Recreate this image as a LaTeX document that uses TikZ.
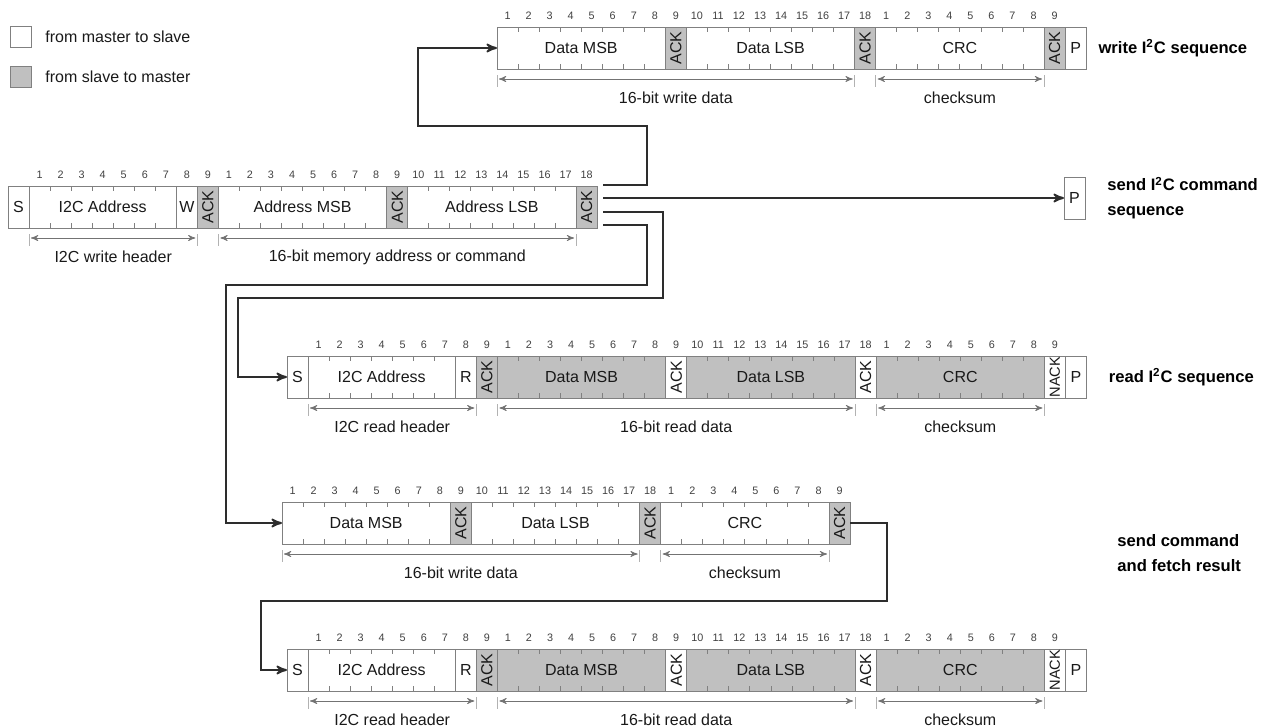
\documentclass[tikz,border=0pt]{standalone}
\usepackage{fontspec}
\setmainfont{Liberation Sans}
\usepackage{tikz}
\usepackage{xcolor}
\usepackage{graphicx}
\usetikzlibrary{calc, chains, arrows, positioning}

\definecolor{slavegray}{RGB}{192,192,192}
\definecolor{rimgray}{RGB}{128,128,128}
\definecolor{wiregray}{RGB}{45,45,45}

\begin{document}
\begin{tikzpicture}[x=0.5pt, y=-0.5pt,
      field/.style={
        draw=rimgray,
        line width=0.5pt,
        minimum width=#1*10.52pt,
        minimum height=21pt,
        inner sep=0pt,
        outer sep=0pt,
        text=black!90,
        font=\fontsize{8}{9.6}\selectfont
      },
      field/.default=1,
      slave/.style={fill=slavegray},
      num/.style={inner sep=0pt, text=black!75, font=\fontsize{5.4}{6}\selectfont},
      tick/.style={draw=rimgray, line width=0.4pt},
      bar/.style={draw=black!30, line width=0.4pt},
      dim/.style={<->, draw=black!55, line width=0.4pt, shorten <=1pt, shorten >=1pt},
      note/.style={inner sep=0pt, text=black!90, font=\fontsize{8}{9.6}\selectfont},
      seq/.style={inner sep=0pt, align=left, font=\bfseries\fontsize{8.3}{12.5}\selectfont},
      wire/.style={->, draw=wiregray, line width=0.9pt},
      >=stealth',
      node distance=0pt]

    \useasboundingbox (0,0) rectangle (1264,728);

    % legend
    \node[field, minimum height=10.52pt, anchor=north west] (keyW) at (10,26) {};
    \node[field, slave, minimum height=10.52pt, below=9.5pt of keyW] (keyG) {};
    \node[note, right=7pt of keyW] (keyWtxt) {from master to slave};
    \node[note, right=7pt of keyG] (keyGtxt) {from slave to master};

    % write sequence
    \begin{scope}[start chain=wr going right]
      \node[field=8, on chain, anchor=north west] (wMSB) at (497,27) {Data MSB};
      \node[field, slave, on chain] (wAck1) {\rotatebox{90}{ACK}};
      \node[field=8, on chain] (wLSB) {Data LSB};
      \node[field, slave, on chain] (wAck2) {\rotatebox{90}{ACK}};
      \node[field=8, on chain] (wCRC) {CRC};
      \node[field, slave, on chain] (wAck3) {\rotatebox{90}{ACK}};
      \node[field, on chain] (wP) {P};
    \end{scope}

    % command sequence
    \begin{scope}[start chain=cmd going right]
      \node[field, on chain, anchor=north west] (cS) at (8,186) {S};
      \node[field=7, on chain] (cAddr) {I2C Address};
      \node[field, on chain] (cW) {W};
      \node[field, slave, on chain] (cAck1) {\rotatebox{90}{ACK}};
      \node[field=8, on chain] (cMSB) {Address MSB};
      \node[field, slave, on chain] (cAck2) {\rotatebox{90}{ACK}};
      \node[field=8, on chain] (cLSB) {Address LSB};
      \node[field, slave, on chain] (cAck3) {\rotatebox{90}{ACK}};
    \end{scope}
    \node[field, anchor=north west] (cP) at (1064,177) {P};

    % read sequence
    \begin{scope}[start chain=rd going right]
      \node[field, on chain, anchor=north west] (rS) at (287,356) {S};
      \node[field=7, on chain] (rAddr) {I2C Address};
      \node[field, on chain] (rR) {R};
      \node[field, slave, on chain] (rAck1) {\rotatebox{90}{ACK}};
      \node[field=8, slave, on chain] (rMSB) {Data MSB};
      \node[field, on chain] (rAck2) {\rotatebox{90}{ACK}};
      \node[field=8, slave, on chain] (rLSB) {Data LSB};
      \node[field, on chain] (rAck3) {\rotatebox{90}{ACK}};
      \node[field=8, slave, on chain] (rCRC) {CRC};
      \node[field, on chain] (rNack) {\rotatebox{90}{\fontsize{7.3}{8}\selectfont NACK}};
      \node[field, on chain] (rP) {P};
    \end{scope}

    % send command, then fetch
    \begin{scope}[start chain=fw going right]
      \node[field=8, on chain, anchor=north west] (fMSB) at (282,502) {Data MSB};
      \node[field, slave, on chain] (fAck1) {\rotatebox{90}{ACK}};
      \node[field=8, on chain] (fLSB) {Data LSB};
      \node[field, slave, on chain] (fAck2) {\rotatebox{90}{ACK}};
      \node[field=8, on chain] (fCRC) {CRC};
      \node[field, slave, on chain] (fAck3) {\rotatebox{90}{ACK}};
    \end{scope}

    \begin{scope}[start chain=bt going right]
      \node[field, on chain, anchor=north west] (bS) at (287,649) {S};
      \node[field=7, on chain] (bAddr) {I2C Address};
      \node[field, on chain] (bR) {R};
      \node[field, slave, on chain] (bAck1) {\rotatebox{90}{ACK}};
      \node[field=8, slave, on chain] (bMSB) {Data MSB};
      \node[field, on chain] (bAck2) {\rotatebox{90}{ACK}};
      \node[field=8, slave, on chain] (bLSB) {Data LSB};
      \node[field, on chain] (bAck3) {\rotatebox{90}{ACK}};
      \node[field=8, slave, on chain] (bCRC) {CRC};
      \node[field, on chain] (bNack) {\rotatebox{90}{\fontsize{7.3}{8}\selectfont NACK}};
      \node[field, on chain] (bP) {P};
    \end{scope}

    % bit numbers and ticks
    \foreach \f/\n/\k in {wMSB/8/1, wAck1/1/9, wLSB/8/10, wAck2/1/18, wCRC/8/1, wAck3/1/9,
        cAddr/7/1, cW/1/8, cAck1/1/9, cMSB/8/1, cAck2/1/9, cLSB/8/10, cAck3/1/18,
        rAddr/7/1, rR/1/8, rAck1/1/9, rMSB/8/1, rAck2/1/9, rLSB/8/10, rAck3/1/18, rCRC/8/1, rNack/1/9,
        fMSB/8/1, fAck1/1/9, fLSB/8/10, fAck2/1/18, fCRC/8/1, fAck3/1/9,
        bAddr/7/1, bR/1/8, bAck1/1/9, bMSB/8/1, bAck2/1/9, bLSB/8/10, bAck3/1/18, bCRC/8/1, bNack/1/9} {
      \foreach \i in {1,...,\n} {
        \pgfmathtruncatemacro{\bit}{\k+\i-1}
        \node[num] (\f-\i) at ($(\f.north west)+({(\i-0.5)*21.04},-11)$) {\bit};
      }
      \ifnum\n>1
        \foreach \i in {2,...,\n}
          \draw[tick] ($(\f.north west)+({(\i-1)*21.04},0)$) -- ++(0,5)
                      ($(\f.south west)+({(\i-1)*21.04},0)$) -- ++(0,-5);
      \fi
    }

    % spans below the fields
    \foreach \a/\b/\txt in {wMSB/wLSB/16-bit write data, wCRC/wCRC/checksum,
        cAddr/cW/I2C write header, cMSB/cLSB/16-bit memory address or command,
        rAddr/rR/I2C read header, rMSB/rLSB/16-bit read data, rCRC/rCRC/checksum,
        fMSB/fLSB/16-bit write data, fCRC/fCRC/checksum,
        bAddr/bR/I2C read header, bMSB/bLSB/16-bit read data, bCRC/bCRC/checksum} {
      \coordinate (\a-dl) at ($(\a.south west)+(0,10)$);
      \coordinate (\a-dr) at ($(\b.south east)+(0,10)$);
      \draw[bar] ($(\a-dl)+(0,-4)$) -- ++(0,12) ($(\a-dr)+(0,-4)$) -- ++(0,12);
      \draw[dim] (\a-dl) -- (\a-dr);
      \node[note] (\a-txt) at ($(\a-dl)!0.5!(\a-dr)+(0,19)$) {\txt};
    }

    % sequence names
    \node[seq, right=6pt of wP] (wLabel) {write I\textsuperscript{2}C sequence};
    \node[seq, right=11pt of cP] (cLabel) {send I\textsuperscript{2}C command\\sequence};
    \node[seq, right=11pt of rP] (rLabel) {read I\textsuperscript{2}C sequence};
    \node[seq, anchor=west] (fLabel) at (1117,553) {send command\\and fetch result};

    % connections
    \coordinate (o1) at ($(cAck3.north east)+(6,-1)$);
    \coordinate (o2) at ($(cAck3.north east)+(6,12)$);
    \coordinate (o3) at ($(cAck3.north east)+(6,26)$);
    \coordinate (o4) at ($(cAck3.north east)+(6,39)$);
    \draw[wire] (o1) -- ++(44,0) |- ($(wMSB.west)+(-79,78)$) |- (wMSB.west);
    \draw[wire] (o2) -- (o2 -| cP.west);
    \draw[wire] (o3) -- ++(60,0) |- ($(rS.west)+(-49,-79)$) |- (rS.west);
    \draw[wire] (o4) -- ++(44,0) |- ($(fMSB.west)+(-56,-238)$) |- (fMSB.west);
    \draw[wire] (fAck3.east) -- ++(37,0) |- ($(bS.west)+(-26,-69)$) |- (bS.west);
  \end{tikzpicture}
\end{document}
